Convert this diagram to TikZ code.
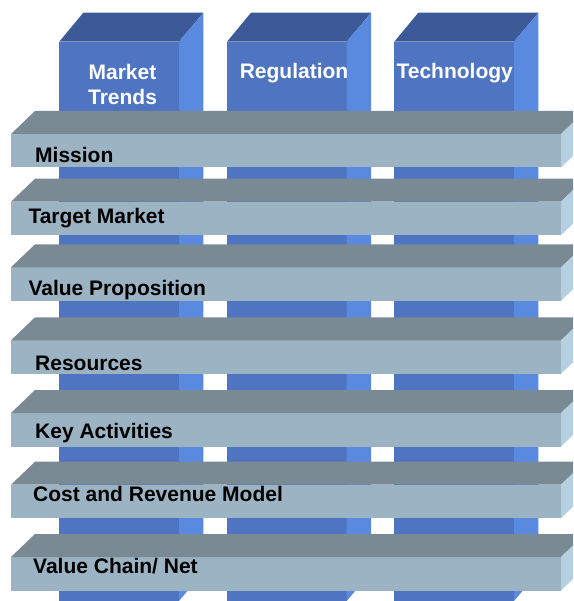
\documentclass[tikz,border=0pt]{standalone}
\usepackage{fontspec}
\setmainfont{Liberation Sans}
\definecolor{pfront}{RGB}{78,116,194}
\definecolor{ptop}{RGB}{61,90,152}
\definecolor{pside}{RGB}{90,137,224}
\definecolor{bfront}{RGB}{155,179,194}
\definecolor{btop}{RGB}{121,138,148}
\definecolor{bside}{RGB}{181,208,224}
\tikzset{
  beamlab/.style={font=\fontsize{21}{25}\selectfont\bfseries, text=black, inner sep=0pt, anchor=base west},
  pillarlab/.style={font=\fontsize{21}{25}\selectfont\bfseries, text=white, inner sep=0pt, anchor=base, align=center},
}
\begin{document}
\begin{tikzpicture}[x=1pt,y=-1pt]
\useasboundingbox (0,0) rectangle (573,601);
\clip (0,0) rectangle (573,601);
% pillars
\foreach \a/\b in {59.3/179, 227/346.7, 394.3/514}{
  \fill[pfront] (\a,41.7) rectangle (\b,601);
  \fill[ptop] (\a,41.7) -- (\a+24,12.7) -- (\b+24.4,12.7) -- (\b,41.7) -- cycle;
  \fill[pside] (\b,41.7) -- (\b+24.4,12.7) -- (\b+24.4,572) -- (\b,601) -- cycle;
}
\node[pillarlab] (p1) at (122.5,105) {Market\\Trends};
\node[pillarlab] (p2) at (294,78.3) {Regulation};
\node[pillarlab] (p3) at (454.7,79) {Technology};
% beams
\foreach \T in {111,178.7,244.3,317.3,390,461.7,534}{
  \fill[bfront] (11,\T+23) rectangle (561,\T+56.5);
  \fill[btop] (11,\T+23) -- (35,\T) -- (585,\T) -- (561,\T+23) -- cycle;
  \fill[bside] (561,\T+23) -- (585,\T) -- (585,\T+33.5) -- (561,\T+56.5) -- cycle;
}
\node[beamlab] (b1) at (35,163) {Mission};
\node[beamlab] (b2) at (28.3,223.3) {Target Market};
\node[beamlab] (b3) at (28.3,295) {Value Proposition};
\node[beamlab] (b4) at (35,370) {Resources};
\node[beamlab] (b5) at (35,438.3) {Key Activities};
\node[beamlab] (b6) at (33,501.7) {Cost and Revenue Model};
\node[beamlab] (b7) at (33,573.3) {Value Chain/ Net};
\end{tikzpicture}
\end{document}
